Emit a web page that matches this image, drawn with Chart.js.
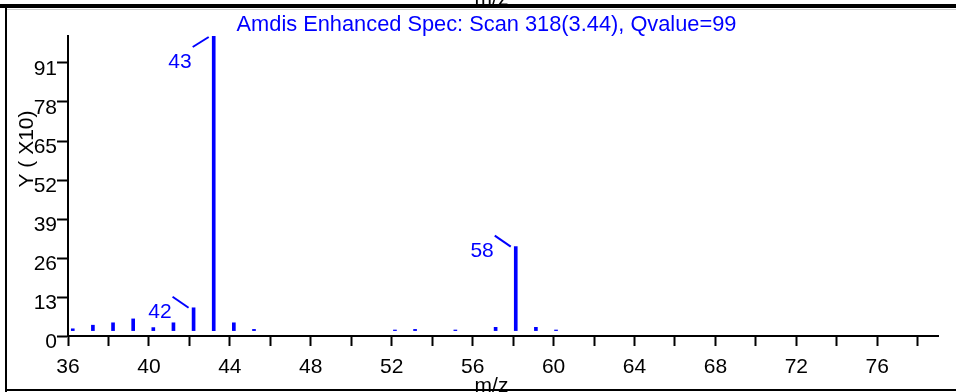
<!DOCTYPE html>
<html><head><meta charset="utf-8">
<script src="https://cdn.jsdelivr.net/npm/chart.js@4.4.1/dist/chart.umd.min.js"></script>
<style>html,body{margin:0;padding:0;background:#fff;overflow:hidden}canvas{display:block}</style>
</head><body>
<canvas id="c" width="956" height="392"></canvas>
<script>
// ---- data ----
const masses      = [36, 37, 38, 39, 40, 41, 42, 43, 44, 45, 52, 53, 55, 57, 58, 59, 60];
const intensities = [2.4, 3.6, 4.4, 5.7, 2.8, 4.4, 9.4, 100, 4.4, 2.2, 2.0, 2.2, 2.0, 2.9, 29.8, 2.9, 2.0];
const baseLevel   = 1.8;
const labeledPeaks = [42, 43, 58];
const xTicks      = [36, 38, 40, 42, 44, 46, 48, 50, 52, 54, 56, 58, 60, 62, 64, 66, 68, 70, 72, 74, 76, 78];
const xTickLabels = ['36', '', '40', '', '44', '', '48', '', '52', '', '56', '', '60', '', '64', '', '68', '', '72', '', '76', ''];
const yTicks      = [0, 13, 26, 39, 52, 65, 78, 91];
const titleText = 'Amdis Enhanced Spec: Scan 318(3.44), Qvalue=99';
const xTitle = 'm/z';
const yTitle = 'Y ( X10)';

const BLUE = '#0000ff';
const FONT = '"Liberation Sans", Arial, sans-serif';

const decor = {
  id: 'decor',
  afterDatasetsDraw(chart) {
    const ctx = chart.ctx, xs = chart.scales.xd, ys = chart.scales.y, top = chart.chartArea.top;
    ctx.save();
    ctx.strokeStyle = BLUE; ctx.fillStyle = BLUE; ctx.lineWidth = 2;
    ctx.font = '21px ' + FONT; ctx.textAlign = 'right'; ctx.textBaseline = 'alphabetic';
    labeledPeaks.forEach(m => {
      const v = intensities[masses.indexOf(m)];
      const px = xs.getPixelForValue(m), py = ys.getPixelForValue(v);
      const below = py - 30 < top;
      ctx.beginPath();
      if (below) { ctx.moveTo(px - 21, py + 11); ctx.lineTo(px - 5, py + 1); }
      else { ctx.moveTo(px - 21, py - 11); ctx.lineTo(px - 5, py); }
      ctx.stroke();
      ctx.fillText(String(m), px - 22, below ? py + 32 : py + 10);
    });
    ctx.restore();
  },
  afterDraw(chart) {
    const ctx = chart.ctx;
    ctx.save();
    ctx.fillStyle = BLUE; ctx.textAlign = 'center'; ctx.textBaseline = 'alphabetic';
    ctx.font = '21.8px ' + FONT;
    ctx.fillText(titleText, 486.5, 31);
    ctx.font = '21px ' + FONT;
    ctx.fillStyle = '#000';
    ctx.fillText(xTitle, 491.5, 392);
    ctx.fillText(xTitle, 491.5, 5);
    ctx.save();
    ctx.translate(33, 149); ctx.rotate(-Math.PI / 2);
    ctx.fillText(yTitle, 0, 0);
    ctx.restore();
    // frame
    ctx.fillStyle = '#000';
    ctx.fillRect(0, 4, 956, 4);
    ctx.fillStyle = '#cfcfcf';
    ctx.fillRect(7, 9, 949, 1);
    ctx.fillStyle = '#000';
    ctx.fillRect(5, 4, 2, 388);
    ctx.fillRect(5, 389, 951, 2);
    ctx.restore();
  }
};

new Chart(document.getElementById('c'), {
  type: 'bar',
  data: {
    datasets: [{
      data: masses.map((m, i) => ({ x: m, y: intensities[i] })),
      base: baseLevel,
      backgroundColor: BLUE,
      borderWidth: 0,
      barThickness: 3,
      xAxisID: 'xd',
      yAxisID: 'y'
    }]
  },
  options: {
    responsive: false,
    animation: false,
    devicePixelRatio: 1,
    layout: { padding: { left: 0, top: 36, right: 18, bottom: 0 } },
    plugins: { legend: { display: false }, tooltip: { enabled: false }, title: { display: false } },
    scales: {
      xd: { type: 'linear', axis: 'x', position: 'bottom', display: false, offset: false, min: 35.763, max: 78.97, grid: { offset: false } },
      x: {
        type: 'linear', position: 'bottom', min: 36, max: 79, offset: false,
        afterBuildTicks: s => { s.ticks = xTicks.map(v => ({ value: v })); },
        afterFit: s => { s.height = 56; },
        ticks: {
          autoSkip: false, maxRotation: 0, padding: 9, color: '#000',
          font: { family: FONT, size: 21 },
          callback: (v) => { const i = xTicks.indexOf(v); return i >= 0 ? xTickLabels[i] : ''; }
        },
        grid: { display: true, offset: false, drawOnChartArea: false, drawTicks: true, tickLength: 10, tickWidth: 2, tickColor: '#000', color: '#000' },
        border: { display: true, color: '#000', width: 2 }
      },
      y: {
        type: 'linear', position: 'left', min: 0, max: 100,
        afterBuildTicks: s => { s.ticks = yTicks.map(v => ({ value: v })); },
        afterFit: s => { s.width = 68; },
        ticks: {
          autoSkip: false, padding: 0, labelOffset: 6, color: '#000',
          font: { family: FONT, size: 21 }
        },
        grid: { display: true, drawOnChartArea: false, drawTicks: true, tickLength: 11, tickWidth: 2, tickColor: '#000', color: '#000' },
        border: { display: true, color: '#000', width: 2 }
      }
    }
  },
  plugins: [decor]
});
</script>
</body></html>
